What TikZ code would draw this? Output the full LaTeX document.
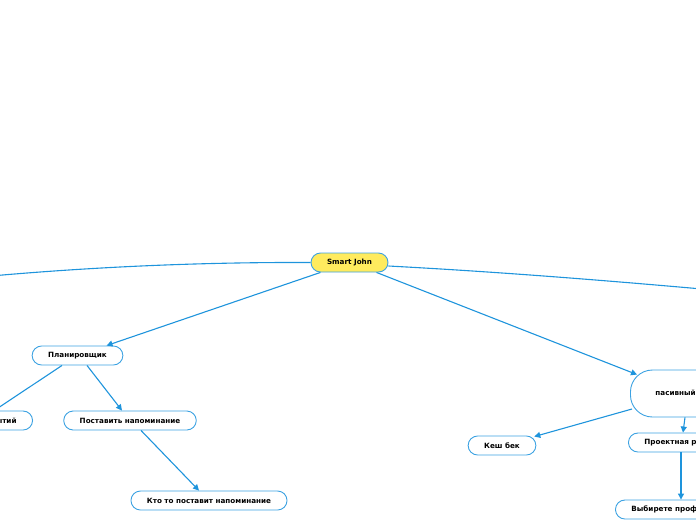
\documentclass[tikz,border=0pt]{standalone}
\usepackage{fontspec}
\setmainfont{DejaVu Sans}
\usetikzlibrary{arrows.meta,calc}
\definecolor{lineblue}{HTML}{1E94DC}
\definecolor{boxblue}{HTML}{3CA2E2}
\definecolor{sjyellow}{HTML}{FFEB5E}
\tikzset{
  topic/.style={draw=boxblue, line width=0.9pt, fill=white, rounded corners=9.5pt,
    minimum height=19pt, inner xsep=16pt, inner ysep=0pt,
    font=\fontsize{7.2pt}{8pt}\selectfont\bfseries},
  central/.style={topic, fill=sjyellow},
  conn/.style={draw=lineblue, line width=1.1pt},
  arr/.style={conn, -{Triangle[length=6pt,width=6pt]}},
}
\begin{document}
\begin{tikzpicture}[x=1pt,y=-1pt]
\useasboundingbox (0,0) rectangle (696,520);
\clip (0,0) rectangle (696,520);
\node[central, minimum width=77pt] (sj) at (349.5,262.5) {Smart John};
\node[topic, minimum width=89pt] (plan) at (77.5,355.5) {Планировщик};
\node[topic, anchor=east] (spis) at (33,420.5) {Список событий};
\node[topic, minimum width=130pt] (post) at (130,420.5) {Поставить напоминание};
\node[topic, minimum width=152pt] (kto) at (209,500.5) {Кто то поставит напоминание};
\node[topic, anchor=west, inner xsep=25pt, minimum height=47pt, rounded corners=22pt] (pas) at (630,393.5) {пасивный доход};
\node[topic, minimum width=66pt] (kesh) at (502,445.5) {Кеш бек};
\node[topic, anchor=west] (proj) at (628,442.5) {Проектная работа};
\node[topic, anchor=west] (vyb) at (615,509.5) {Выбирете профессию};
\coordinate (offL) at (-70,282);
\coordinate (offR) at (790,297);
\coordinate (offLL) at (-20,420);
\draw[conn] (sj.west) .. controls (190,262) and (60,268) .. (offL);
\draw[conn] ($(sj.east)+(0,3.5)$) .. controls (520,273) and (650,284) .. (offR);
\draw[arr] (sj) -- (plan);
\draw[arr] ($(sj.south)+(27,0)$) -- ($(pas.north west)+(7,5)$);
\draw[conn] ($(plan.south)+(-15.5,0)$) -- (offLL);
\draw[arr] ($(plan.south)+(9.5,0)$) -- ($(post.north)+(-8,0)$);
\draw[arr] ($(post.south)+(11,0)$) -- ($(kto.north)+(-10,0)$);
\draw[arr] ($(pas.west)+(2,15.5)$) -- ($(kesh.north east)+(-2,1)$);
\draw[arr] ($(pas.south west)+(55,0)$) -- ($(proj.north west)+(55,0)$);
\draw[arr] ($(proj.south west)+(53,0)$) -- ($(vyb.north west)+(66,0)$);
\end{tikzpicture}
\end{document}
